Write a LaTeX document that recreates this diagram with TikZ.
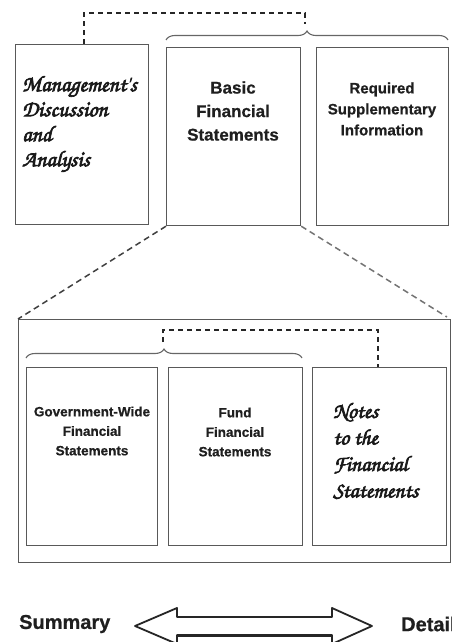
\documentclass[tikz,border=0pt]{standalone}
\usepackage{fontspec}
\setmainfont{Liberation Sans}
\newfontfamily\heavy[FakeBold=0.7]{Liberation Sans Bold}
\newfontfamily\scriptfnt[FakeBold=3]{texgyrechorus-mediumitalic.otf}
\usetikzlibrary{decorations.pathreplacing}
\begin{document}
\begin{tikzpicture}[x=1pt,y=-1pt,
  box/.style={draw=black!65,line width=1.2pt,inner sep=0pt,anchor=north west},
  dline/.style={draw=black!85,line width=1.5pt,dash pattern=on 5pt off 4pt},
  diag/.style={draw=black!75,line width=1.5pt,dash pattern=on 6pt off 4pt},
  brc/.style={draw=black!60,line width=1.1pt,decorate,decoration={brace,amplitude=9pt}},
  sans/.style={text=black!88,align=center,inner sep=0pt},
  scr/.style={text=black!90,align=left,inner sep=0pt,anchor=west}
]
\useasboundingbox (0,0) rectangle (451,642);
% top boxes
\node[box,minimum width=133pt,minimum height=180pt] (mda) at (15,44) {};
\node[box,minimum width=134pt,minimum height=178pt] (bfs) at (166,47) {};
\node[box,minimum width=132pt,minimum height=178pt] (rsi) at (316,47) {};
% lower container and boxes
\node[box,minimum width=432pt,minimum height=243pt] (big) at (18,319) {};
\node[box,minimum width=131pt,minimum height=178pt] (gov) at (26,367) {};
\node[box,minimum width=134pt,minimum height=178pt] (fund) at (168,367) {};
\node[box,minimum width=134pt,minimum height=178pt] (notes) at (312,367) {};
% texts
\node[sans,font=\heavy\fontsize{17}{23.5}\selectfont] (tbfs) at (233,111) {Basic\\Financial\\Statements};
\node[sans,font=\heavy\fontsize{15}{21}\selectfont] (trsi) at (382,109) {Required\\Supplementary\\Information};
\node[sans,font=\heavy\fontsize{13.5}{19.5}\selectfont] (tgov) at (92,431) {Government-Wide\\Financial\\Statements};
\node[sans,font=\heavy\fontsize{13.5}{19.5}\selectfont] (tfund) at (235,432) {Fund\\Financial\\Statements};
\node[scr,font=\scriptfnt\fontsize{22.5}{25}\selectfont] (tmda) at (22,124) {Management's\\Discussion\\and\\Analysis};
\node[scr,font=\scriptfnt\fontsize{22}{26.5}\selectfont] (tnotes) at (333,451) {Notes\\to the\\Financial\\Statements};
% braces
\coordinate (b1l) at (166,40);
\coordinate (b1r) at (448,40);
\coordinate (b1t) at (305,24);
\draw[brc] (b1l) -- (b1r);
\coordinate (b2l) at (26,358);
\coordinate (b2r) at (302,358);
\coordinate (b2t) at (163,342);
\draw[brc] (b2l) -- (b2r);
% dashed connectors
\draw[dline] (mda.north west -| 84,0) -- (84,13) -| (b1t);
\draw[dline] (b2t) -- (163,330) -| (notes.north west -| 378,0);
% diagonals
\draw[diag] (bfs.south west) -- (big.north west);
\draw[diag,draw=black!55] (bfs.south east) -- (447,317);
% bottom
\node[sans,font=\heavy\fontsize{20}{22}\selectfont,anchor=west] (sum) at (19,624) {Summary};
\node[sans,font=\heavy\fontsize{20}{22}\selectfont,anchor=west] (det) at (401,624) {Detail};
\draw[draw=black!85,line width=1.8pt,line join=round]
  (135,626) -- (177,608) -- (177,617) -- (332,617) -- (332,608) -- (372,626)
  -- (332,644) -- (332,635) -- (177,635) -- (177,644) -- cycle;
\draw[draw=black!85,line width=3pt] (177,635.5) -- (332,635.5);
\end{tikzpicture}
\end{document}
